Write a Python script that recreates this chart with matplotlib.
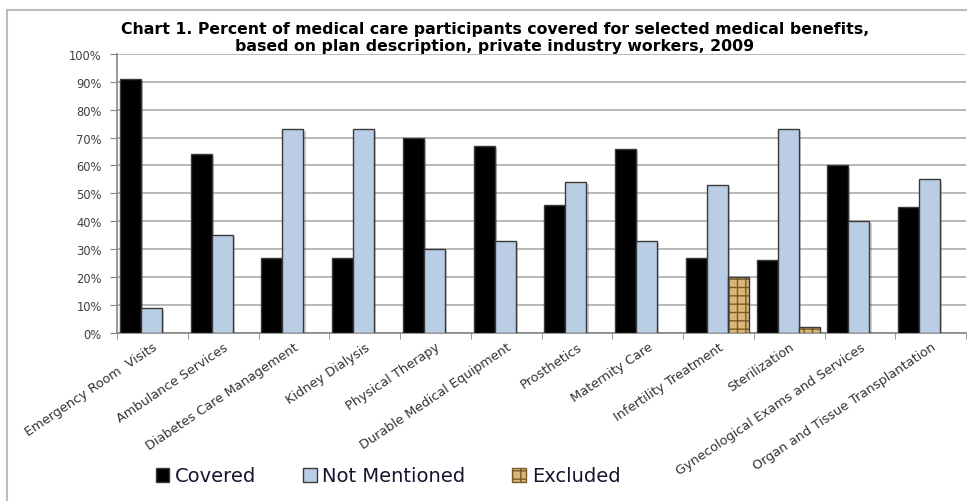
import numpy as np
import matplotlib
matplotlib.use("Agg")
import matplotlib.pyplot as plt
from matplotlib.patches import Rectangle, Patch
from matplotlib import patheffects as pe

categories = ["Emergency Room  Visits", "Ambulance Services", "Diabetes Care Management",
              "Kidney Dialysis", "Physical Therapy", "Durable Medical Equipment",
              "Prosthetics", "Maternity Care", "Infertility Treatment", "Sterilization",
              "Gynecological Exams and Services", "Organ and Tissue Transplantation"]
covered = [91, 64, 27, 27, 70, 67, 46, 66, 27, 26, 60, 45]
not_mentioned = [9, 35, 73, 73, 30, 33, 54, 33, 53, 73, 40, 55]
excluded = [0, 0, 0, 0, 0, 0, 0, 0, 20, 2, 0, 0]
series_names = ["Covered", "Not Mentioned", "Excluded"]
title = ("Chart 1. Percent of medical care participants covered for selected medical benefits,\n"
         "based on plan description, private industry workers, 2009")
yticks = [0, 10, 20, 30, 40, 50, 60, 70, 80, 90, 100]

W, H = 967, 502
fig = plt.figure(figsize=(W / 100, H / 100), dpi=100)
fig.patch.set_facecolor("white")

# outer chart frame
fig.patches.append(Rectangle((7 / W, -0.05), 1.2, 1 - 11 / H + 0.05, transform=fig.transFigure,
                             fill=False, edgecolor="#BDBDBD", linewidth=1.5, zorder=0))

ax = fig.add_axes([117 / W, 1 - 334 / H, (966 - 117) / W, (334 - 54.8) / H])

x = np.arange(len(categories))
w = 0.298
start = x - 0.5 + 0.04
shadow = [pe.SimplePatchShadow(offset=(1.5, -1.5), alpha=0.25), pe.Normal()]
edge = "#3A3A3A"

b1 = ax.bar(start + w / 2, covered, w, color="black", edgecolor=edge, linewidth=1, zorder=3)
b2 = ax.bar(start + 1.5 * w, not_mentioned, w, color="#B9CDE5", edgecolor=edge, linewidth=1, zorder=3)
exc = np.array(excluded, dtype=float)
lw3 = [1 if v > 0 else 0 for v in exc]
b3a = ax.bar(start + 2.5 * w, exc, w, color="#D8B877", edgecolor="#7A5A2A", hatch="++",
             linewidth=0, zorder=3)
b3b = ax.bar(start + 2.5 * w, exc, w, fill=False, edgecolor=edge, linewidth=lw3, zorder=4)
for bars in (b1, b2):
    for p in bars:
        p.set_path_effects(shadow)

ax.set_xlim(-0.5, len(categories) - 0.5)
ax.set_ylim(0, 100)
ax.set_yticks(yticks)
ax.set_yticklabels([f"{v}%" for v in yticks], fontsize=8.3, color="#404040", family="DejaVu Sans")
ax.yaxis.grid(True, color="#A6A6A6", linewidth=1.1, zorder=0)
ax.set_axisbelow(True)

ax.set_xticks(x)
ax.set_xticklabels(categories, rotation=34, ha="right", va="top", rotation_mode="anchor",
                   fontsize=9.3, color="#333333", family="DejaVu Sans")
ax.tick_params(axis="x", length=0, pad=5)
ax.set_xticks(np.arange(-0.5, len(categories) + 0.5, 1), minor=True)
ax.tick_params(axis="x", which="minor", length=4, color="#868686", direction="out")
ax.tick_params(axis="y", length=5, color="#868686", pad=6)

for s in ["top", "right"]:
    ax.spines[s].set_visible(False)
for s in ["left", "bottom"]:
    ax.spines[s].set_color("#868686")
    ax.spines[s].set_linewidth(1.2)

fig.text(495 / W, 1 - 38 / H, title, ha="center", va="center", fontsize=11.3,
         fontweight="bold", family="DejaVu Sans", color="black", linespacing=1.2)

handles = [Patch(facecolor="black", edgecolor=edge),
           Patch(facecolor="#B9CDE5", edgecolor=edge),
           Patch(facecolor="#D8B877", edgecolor="#7A5A2A", hatch="++")]
leg = fig.legend(handles, series_names, loc="center", bbox_to_anchor=(388 / W, 1 - 477 / H),
                 ncol=3, frameon=False, handlelength=0.7, handleheight=0.7,
                 handletextpad=0.3, columnspacing=2.4, prop={"family": "DejaVu Sans", "size": 14})
for t in leg.get_texts():
    t.set_color("#15152E")

fig.savefig("out.png", dpi=100, facecolor="white")
